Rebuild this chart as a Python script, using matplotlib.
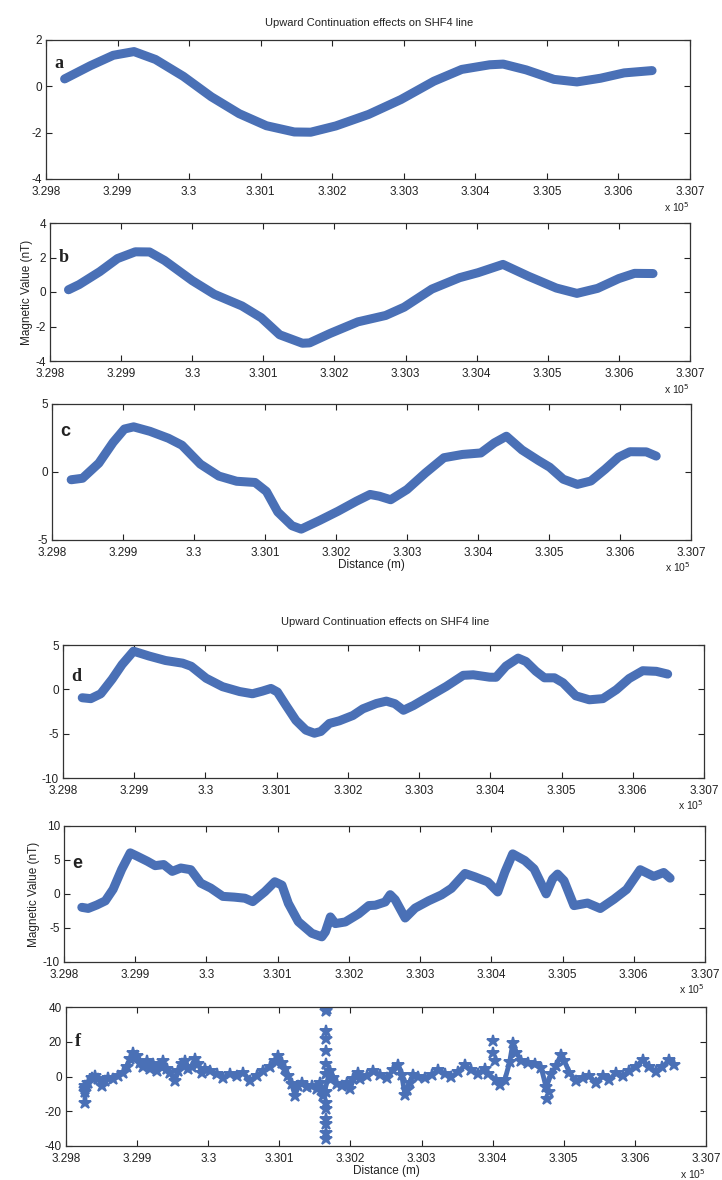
import numpy as np
import matplotlib
matplotlib.use('Agg')
import matplotlib.pyplot as plt
from matplotlib.ticker import FuncFormatter

plt.rcParams['font.family'] = ['Liberation Sans', 'DejaVu Sans']
plt.rcParams['axes.unicode_minus'] = False

# Distance in metres, values in nT
xa = [329826, 329862, 329894, 329923, 329953, 329992, 330031, 330070, 330108, 330147,
      330170, 330205, 330251, 330296, 330342, 330381, 330420, 330439, 330471, 330510,
      330542, 330575, 330608, 330647]
ya = [0.32, 0.89, 1.34, 1.5, 1.16, 0.43, -0.45, -1.18, -1.7, -1.97,
      -1.98, -1.71, -1.21, -0.57, 0.22, 0.73, 0.93, 0.96, 0.71, 0.3,
      0.19, 0.35, 0.58, 0.68]

xb = [329826, 329841, 329870, 329895, 329920, 329940, 329961, 330000, 330031, 330070,
      330097, 330123, 330155, 330165, 330194, 330233, 330272, 330298, 330337, 330376,
      330402, 330437, 330473, 330512, 330541, 330570, 330600, 330622, 330648]
yb = [0.13, 0.43, 1.18, 1.94, 2.33, 2.32, 1.83, 0.66, -0.13, -0.81,
      -1.49, -2.48, -2.97, -2.95, -2.4, -1.73, -1.36, -0.88, 0.17, 0.83,
      1.12, 1.6, 0.91, 0.23, -0.08, 0.21, 0.78, 1.08, 1.07]

xc = [329827, 329843, 329866, 329886, 329902, 329915, 329938, 329964, 329983, 330009,
      330035, 330060, 330086, 330102, 330118, 330138, 330151, 330177, 330203, 330229,
      330248, 330261, 330277, 330300, 330326, 330352, 330378, 330404, 330423, 330440,
      330462, 330485, 330501, 330520, 330540, 330559, 330579, 330598, 330614, 330637,
      330651]
yc = [-0.57, -0.46, 0.65, 2.17, 3.16, 3.32, 2.99, 2.48, 1.97, 0.58,
      -0.3, -0.68, -0.77, -1.43, -2.94, -3.95, -4.2, -3.56, -2.88, -2.14,
      -1.65, -1.78, -2.04, -1.29, -0.07, 1.05, 1.29, 1.4, 2.14, 2.63,
      1.62, 0.85, 0.35, -0.53, -0.91, -0.66, 0.2, 1.09, 1.49, 1.48,
      1.17]

xd = [329827, 329839, 329853, 329869, 329883, 329899, 329921, 329944, 329968, 329980,
      330001, 330024, 330048, 330066, 330080, 330092, 330101, 330113, 330127, 330141,
      330153, 330162, 330174, 330188, 330207, 330221, 330240, 330254, 330266, 330278,
      330292, 330315, 330338, 330362, 330376, 330399, 330408, 330422, 330439, 330450,
      330464, 330476, 330490, 330502, 330520, 330539, 330558, 330577, 330595, 330614,
      330633, 330649]
yd = [-0.95, -1.05, -0.5, 1.15, 2.8, 4.3, 3.75, 3.25, 2.95, 2.6,
      1.25, 0.3, -0.25, -0.5, -0.2, 0.1, -0.3, -1.8, -3.5, -4.6,
      -4.95, -4.75, -3.85, -3.55, -2.95, -2.2, -1.6, -1.33, -1.62, -2.36,
      -1.83, -0.75, 0.32, 1.58, 1.64, 1.37, 1.36, 2.62, 3.52, 3.14,
      2.04, 1.3, 1.3, 0.74, -0.73, -1.18, -1.05, -0.04, 1.22, 2.1,
      2.03, 1.72]

xe = [329825, 329834, 329846, 329858, 329869, 329881, 329893, 329903, 329917, 329928,
      329940, 329952, 329964, 329978, 329992, 330006, 330023, 330039, 330054, 330065,
      330082, 330096, 330106, 330115, 330129, 330148, 330162, 330167, 330174, 330181,
      330195, 330214, 330228, 330237, 330251, 330258, 330265, 330279, 330293, 330312,
      330330, 330344, 330363, 330377, 330395, 330409, 330419, 330430, 330447, 330460,
      330477, 330486, 330493, 330502, 330516, 330535, 330553, 330572, 330590, 330609,
      330628, 330642, 330651]
ye = [-1.96, -2.12, -1.62, -1.01, 0.7, 3.62, 6.05, 5.55, 4.82, 4.17,
      4.33, 3.33, 3.82, 3.57, 1.6, 0.87, -0.35, -0.46, -0.62, -1.12,
      0.34, 1.8, 1.3, -1.38, -4.07, -5.78, -6.3, -5.57, -3.37, -4.35,
      -4.11, -2.9, -1.7, -1.65, -1.17, -0.1, -0.84, -3.53, -2.07, -1.0,
      -0.13, 0.83, 3.02, 2.52, 1.78, 0.3, 3.22, 5.9, 4.92, 3.69,
      0.02, 2.21, 2.93, 1.96, -1.71, -1.33, -2.13, -0.78, 0.67, 3.57,
      2.59, 3.16, 2.33]

xf = [329826.7, 329826.7, 329826.7, 329826.7, 329831.4, 329836.1, 329840.8, 329845.5, 329850.2, 329854.8,
      329859.5, 329866.6, 329873.6, 329880.6, 329885.3, 329890.0, 329894.7, 329899.4, 329904.1, 329908.8,
      329913.4, 329918.1, 329922.8, 329927.5, 329932.2, 329936.9, 329941.6, 329946.3, 329953.3, 329958.0,
      329962.7, 329967.4, 329972.0, 329976.7, 329981.4, 329986.1, 329990.8, 329995.5, 330002.5, 330011.9,
      330021.3, 330030.6, 330040.0, 330049.4, 330058.8, 330068.1, 330077.5, 330086.9, 330093.9, 330098.6,
      330103.3, 330108.0, 330112.7, 330117.4, 330122.1, 330126.8, 330131.4, 330138.5, 330145.5, 330152.5,
      330157.2, 330161.9, 330171.3, 330176.0, 330180.7, 330187.7, 330194.7, 330199.4, 330204.1, 330211.1,
      330213.6, 330222.9, 330232.2, 330241.6, 330250.9, 330260.3, 330267.3, 330272.0, 330276.6, 330279.0,
      330283.6, 330288.3, 330295.3, 330304.7, 330314.0, 330323.4, 330332.7, 330342.1, 330351.4, 330360.8,
      330370.1, 330379.4, 330388.8, 330393.5, 330405.1, 330409.8, 330416.8, 330423.8, 330428.5, 330433.2,
      330440.2, 330449.5, 330458.9, 330468.2, 330475.2, 330482.3, 330489.3, 330496.3, 330501.0, 330508.0,
      330517.3, 330526.7, 330536.0, 330545.3, 330554.7, 330564.0, 330573.4, 330582.7, 330592.1, 330601.4,
      330610.8, 330620.1, 330629.4, 330638.8, 330648.1, 330655.1]
yf = [-15.0, -9.0, -7.3, -5.4, -3.5, -0.6, 0.4, -1.2, -5.4, -2.5,
      -0.6, -1.5, 0.4, 2.3, 5.2, 10.0, 13.8, 11.9, 8.0, 5.2,
      9.0, 4.2, 7.1, 3.3, 6.2, 9.0, 4.2, 2.3, -2.5, 3.3,
      7.1, 9.0, 4.2, 5.2, 10.0, 7.1, 2.3, 4.2, 3.3, 1.3,
      -0.6, 1.3, 0.4, 2.3, -2.5, 0.4, 3.3, 5.2, 9.0, 11.9,
      8.0, 4.2, 0.4, -4.4, -11.0, -5.4, -3.5, -6.3, -5.4, -7.3,
      -3.5, -11.0, 3.3, -0.6, -4.4, -5.4, -3.5, -7.3, -1.5, 2.3,
      -1.7, 0.15, 2.9, 1.0, -0.9, 3.8, 6.6, 0.9, -10.4, -7.6,
      -3.8, 0.9, 0.0, -1.0, 0.8, 3.6, 1.7, -0.2, 2.6, 6.4,
      3.5, 1.6, 4.4, 1.5, -2.3, -5.1, -2.3, 8.1, 19.4, 13.7,
      9.0, 8.0, 7.0, 5.1, -6.2, 1.3, 6.0, 12.6, 8.8, 2.2,
      -2.6, -0.7, 0.2, -3.6, 0.2, -1.8, 2.0, 0.1, 2.9, 5.7,
      9.4, 5.6, 2.8, 5.6, 9.3, 6.5]

# isolated outlier stars in panel f
xf_spk = [330165.7, 330165.7, 330167.5, 330165.7, 330165.7, 330165.7, 330165.7, 330165.7,
          330165.7, 330165.7, 330165.7, 330165.7, 330165.7, 330165.7, 330165.7,
          330400.5, 330400.5, 330402.8, 330476.6, 330479.0]
yf_spk = [40.8, 37.9, 38.8, 26.3, 21.5, 14.8, 7.1, 1.3,
          -9.2, -15.0, -18.8, -24.6, -27.5, -32.3, -36.2,
          20.4, 13.8, 9.1, -12.8, -9.1]

panels = [
    ('a', xa, ya, (-4, 2), [-4, -2, 0, 2], 1.0),
    ('b', xb, yb, (-4, 4), [-4, -2, 0, 2, 4], 2.0),
    ('c', xc, yc, (-5, 5), [-5, 0, 5], 3.0),
    ('d', xd, yd, (-10, 5), [-10, -5, 0, 5], 1.5),
    ('e', xe, ye, (-10, 10), [-10, -5, 0, 5, 10], 4.5),
    ('f', xf, yf, (-40, 40), [-40, -20, 0, 20, 40], 20.0),
]

# axes boxes in pixels: left, right, top, bottom
boxes = [(46, 690, 40, 179), (50, 690, 223, 361), (52, 691, 404, 540),
         (63, 704, 645, 778), (64, 705, 826, 962), (66, 706, 1007, 1146)]

W, H = 722, 1180
fig = plt.figure(figsize=(W / 100, H / 100), dpi=100)
blue = '#4a70b6'
xticks = np.arange(329800, 330701, 100)
fmt = FuncFormatter(lambda v, p: '%g' % round(v / 1e5, 3))

for i, (lab, x, y, ylim, yt, ylab) in enumerate(panels):
    l, r, t, b = boxes[i]
    ax = fig.add_axes([l / W, 1 - b / H, (r - l) / W, (b - t) / H])
    if lab == 'f':
        ax.plot(x, y, '-', color=blue, lw=3.5, marker='*', ms=9, mew=1.4)
        ax.plot(xf_spk, yf_spk, '*', color=blue, ms=9, mew=1.4)
    else:
        ax.plot(x, y, '-', color=blue, lw=6.5, solid_joinstyle='round', solid_capstyle='round')
    ax.set_xlim(329800, 330700)
    ax.set_ylim(*ylim)
    ax.set_xticks(xticks)
    ax.xaxis.set_major_formatter(fmt)
    ax.set_yticks(yt)
    ax.tick_params(direction='in', top=True, right=True, labelsize=8.5, length=4, width=0.8,
                   colors='#222222')
    ax.tick_params(axis='x', pad=5)
    ax.tick_params(axis='y', pad=3)
    for s in ax.spines.values():
        s.set_linewidth(0.9)
        s.set_color('#333333')
    weight_family = 'Liberation Serif' if lab in 'abdf' else 'Liberation Sans'
    ax.text(329812, ylab, lab, fontsize=13, fontweight='bold', family=weight_family,
            color='#222222', va='center', ha='left')
    ax.text(1.0, -0.15, r'x 10$^5$', transform=ax.transAxes, fontsize=7.5,
            ha='right', va='top', color='#222222')
    if lab in 'cf':
        ax.set_xlabel('Distance (m)', fontsize=8.5, labelpad=0, color='#222222')
    if lab in 'be':
        ax.set_ylabel('Magnetic Value (nT)', fontsize=8.5, labelpad=2, color='#222222')

fig.text(369 / W, 1 - 23 / H, 'Upward Continuation effects on SHF4 line', ha='center',
         va='center', fontsize=8, color='#222222')
fig.text(385 / W, 1 - 622 / H, 'Upward Continuation effects on SHF4 line', ha='center',
         va='center', fontsize=8, color='#222222')

fig.savefig('out.png', dpi=100)
